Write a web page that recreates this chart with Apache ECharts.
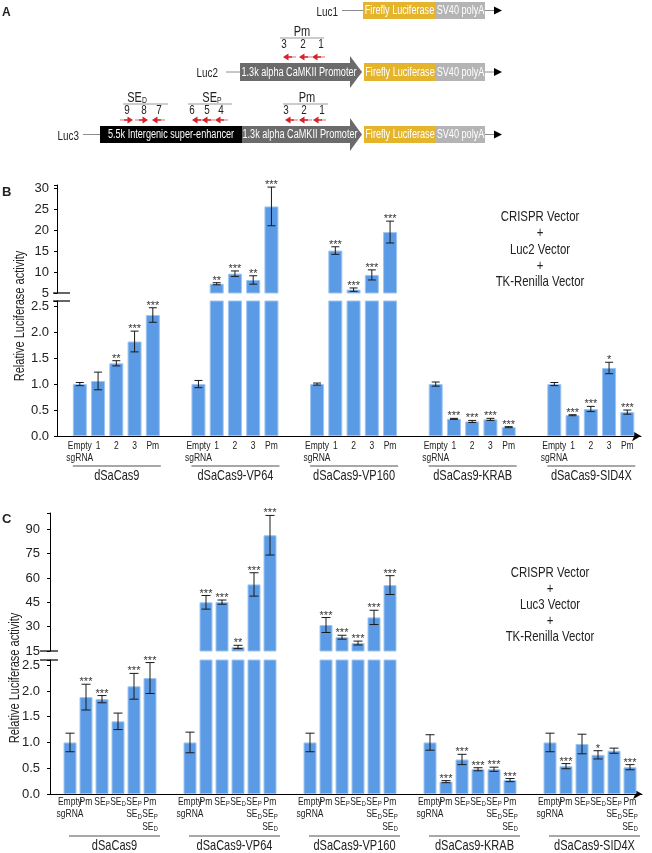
<!DOCTYPE html>
<html><head><meta charset="utf-8">
<script src="https://cdn.jsdelivr.net/npm/echarts@6/dist/echarts.min.js"></script>
<style>html,body{margin:0;padding:0;background:#fff}#c{width:652px;height:853px}</style>
</head><body><div id="c"></div>
<script>
// ---------------- DATA ----------------
const groupNames = ['dSaCas9','dSaCas9-VP64','dSaCas9-VP160','dSaCas9-KRAB','dSaCas9-SID4X'];

// Panel B (Luc2)
const bBarLabels = ['Empty\nsgRNA','1','2','3','Pm'];
const bMean = [[1.0,1.06,1.40,1.82,2.33],[1.0,7.2,9.6,8.1,25.6],[1.0,15.1,5.8,9.3,19.5],[1.0,0.33,0.28,0.32,0.17],[1.0,0.40,0.52,1.31,0.46]];
const bErr  = [[0.03,0.17,0.05,0.20,0.14],[0.07,0.25,0.65,1.0,4.6],[0.02,0.9,0.4,1.2,2.6],[0.04,0.01,0.02,0.02,0.01],[0.03,0.01,0.05,0.11,0.04]];
const bSig  = [['','','**','***','***'],['','**','***','**','***'],['','***','***','***','***'],['','***','***','***','***'],['','***','***','*','***']];
const bLowerTicks = [0,0.5,1.0,1.5,2.0,2.5];
const bUpperTicks = [5,10,15,20,25,30];

// Panel C (Luc3)
const cBarLabels = ['Empty\nsgRNA','Pm','SE{s|P}','SE{s|D}','SE{s|P}\nSE{s|D}','Pm\nSE{s|P}\nSE{s|D}'];
const cMean = [[1.0,1.88,1.84,1.41,2.09,2.25],[1.0,45.0,45.1,17.5,56.0,86.3],[1.0,31.0,23.5,19.9,35.7,55.6],[1.0,0.24,0.67,0.48,0.48,0.27],[1.0,0.54,0.97,0.76,0.84,0.52]];
const cErr  = [[0.18,0.25,0.07,0.16,0.25,0.30],[0.2,4.2,1.3,1.0,7.2,12.2],[0.18,4.6,1.2,1.2,4.4,5.8],[0.15,0.02,0.10,0.03,0.04,0.03],[0.18,0.05,0.19,0.08,0.05,0.05]];
const cSig  = [['','***','***','','***','***'],['','***','***','**','***','***'],['','***','***','***','***','***'],['','***','***','***','***','***'],['','***','','*','','***']];
const cLowerTicks = [0,0.5,1.0,1.5,2.0,2.5];
const cUpperTicks = [15,30,45,60,75,90];

const bLegend = ['CRISPR Vector','+','Luc2 Vector','+','TK-Renilla Vector'];
const cLegend = ['CRISPR Vector','+','Luc3 Vector','+','TK-Renilla Vector'];
const yName = 'Relative Luciferase activity';

// ---------------- STYLE ----------------
const REG = '"Liberation Sans",Arial,sans-serif';
const SX = 0.76; // horizontal condensing to mimic a narrow typeface
const BAR = '#5B9BE6', BAR_EDGE = '#9FC5F1', TXT = '#222';
const SUB = {s:{fontFamily:REG, fontSize:8, lineHeight:5, verticalAlign:'bottom', fill:TXT}};

const chart = echarts.init(document.getElementById('c'), null, {renderer:'canvas'});
const option = {animation:false, grid:[], xAxis:[], yAxis:[], series:[], graphic:[]};
const panels = [];

function buildSlots(nBars, nGroups, lead, gap, trail){
  let idx = lead; const pos = [];
  for (let g=0; g<nGroups; g++){
    const p=[]; for (let i=0;i<nBars;i++){ p.push(idx); idx += (i<nBars-1?2:1); }
    pos.push(p); if (g<nGroups-1) idx += gap;
  }
  return {n: idx+trail, pos};
}

function errRender(sigs, capW){
  return function(params, api){
    const x = api.value(0), m = api.value(1), e = api.value(2);
    const t = api.coord([x, m+e]), b = api.coord([x, m-e]);
    const cx = t[0], st = {stroke:'#1a1a1a', lineWidth:1};
    const ch = [
      {type:'line', shape:{x1:cx,y1:t[1],x2:cx,y2:b[1]}, style:st},
      {type:'line', shape:{x1:cx-capW/2,y1:t[1],x2:cx+capW/2,y2:t[1]}, style:st},
      {type:'line', shape:{x1:cx-capW/2,y1:b[1],x2:cx+capW/2,y2:b[1]}, style:st}
    ];
    const s = sigs[params.dataIndex];
    if (s) ch.push({type:'text', style:{text:s, x:cx, y:t[1]-2, align:'center', verticalAlign:'middle', font:'11px '+REG, fill:'#333'}});
    return {type:'group', children:ch};
  };
}

function addPanel(p){
  const nb = p.barLabels.length;
  const slots = buildSlots(nb, p.mean.length, p.lead, p.gap, p.trail);
  const cats = Array.from({length:slots.n}, (_,i)=>'c'+i);
  const gL = option.grid.length;
  option.grid.push({left:p.left, top:p.lowerTop, width:p.width, height:p.lowerH});
  option.grid.push({left:p.left, top:p.upperTop, width:p.width, height:p.upperH});
  option.xAxis.push({type:'category', gridIndex:gL, data:cats,
    axisLine:{show:true, lineStyle:{color:'#000', width:1}, symbol:['none','arrow'], symbolSize:[8,9]},
    axisTick:{show:false}, axisLabel:{show:false}});
  option.xAxis.push({type:'category', gridIndex:gL+1, data:cats, show:false});
  const li = p.lowerTicks[1]-p.lowerTicks[0], ui = p.upperTicks[1]-p.upperTicks[0];
  const yCommon = {axisLine:{show:true, lineStyle:{color:'#000', width:1}}, axisTick:{show:true, length:3, lineStyle:{color:'#000'}}, splitLine:{show:false}};
  option.yAxis.push(Object.assign({type:'value', gridIndex:gL, min:p.lowerTicks[0], max:p.lowerMax, interval:li,
    axisLabel:{color:TXT, fontFamily:REG, fontSize:13, margin:p.tickMargin,
      formatter:v=>p.lowerTicks.some(t=>Math.abs(t-v)<1e-6)?v.toFixed(1):''}}, yCommon));
  option.yAxis.push(Object.assign({type:'value', gridIndex:gL+1, min:p.upperTicks[0], max:p.upperMax, interval:ui,
    axisLabel:{color:TXT, fontFamily:REG, fontSize:13, margin:p.tickMargin,
      formatter:v=>p.upperTicks.some(t=>Math.abs(t-v)<1e-6)?String(v):''}}, yCommon));
  const low = new Array(slots.n).fill('-'), up = new Array(slots.n).fill('-');
  const eLow=[], eUp=[], sLow=[], sUp=[];
  p.mean.forEach((g,gi)=>g.forEach((m,bi)=>{
    const s = slots.pos[gi][bi];
    low[s]=m;
    if (m>p.lowerMax){ up[s]=m; eUp.push([s,m,p.err[gi][bi]]); sUp.push(p.sig[gi][bi]); }
    else { eLow.push([s,m,p.err[gi][bi]]); sLow.push(p.sig[gi][bi]); }
  }));
  const barStyle = {color:BAR, borderColor:BAR_EDGE, borderWidth:1};
  option.series.push({type:'bar', xAxisIndex:gL, yAxisIndex:gL, data:low, barWidth:p.barW, itemStyle:barStyle, clip:true, z:2});
  option.series.push({type:'bar', xAxisIndex:gL+1, yAxisIndex:gL+1, data:up, barWidth:p.barW, itemStyle:barStyle, clip:true, z:2});
  option.series.push({type:'custom', xAxisIndex:gL, yAxisIndex:gL, data:eLow, renderItem:errRender(sLow,p.capW), clip:false, z:5});
  option.series.push({type:'custom', xAxisIndex:gL+1, yAxisIndex:gL+1, data:eUp, renderItem:errRender(sUp,p.capW), clip:false, z:5});
  panels.push(Object.assign({gL, slots}, p));
}

addPanel({mean:bMean, err:bErr, sig:bSig, barLabels:bBarLabels, lowerTicks:bLowerTicks, upperTicks:bUpperTicks,
  left:57, width:584, lowerTop:301, lowerH:135, upperTop:185, upperH:108, lowerMax:2.6, upperMax:30.7,
  lead:2, gap:4, trail:1, barW:14, capW:8, labelLH:12, labelTop:439.5, tickMargin:8,
  brk:[-4,13], ulOff:[-7,8], lineY:466, nameY:475, legend:bLegend, legX:540, legY:249.5, legLH:16.3, yNameX:20, yNameY:316});
addPanel({mean:cMean, err:cErr, sig:cSig, barLabels:cBarLabels, lowerTicks:cLowerTicks, upperTicks:cUpperTicks,
  left:50, width:592, lowerTop:660, lowerH:134, upperTop:513, upperH:138, lowerMax:2.6, upperMax:100,
  lead:2, gap:4, trail:1, barW:13, capW:9, labelLH:12.5, labelTop:795.5, tickMargin:10,
  brk:[-10,8], ulOff:[-1,10], lineY:836, nameY:845, legend:cLegend, legX:550, legY:605, legLH:16, yNameX:15, yNameY:678});

chart.setOption(option);

// ---------------- DECORATIONS ----------------
const G = [];
function ntxt(text, x, y, size, o){ // condensed text
  o = o || {};
  return {type:'text', x, y, rotation:o.rotation||0, scaleX:SX,
    style:Object.assign({text, align:o.align||'center', verticalAlign:o.va||'middle', font:(o.bold?'bold ':'')+size+'px '+REG, fill:o.fill||TXT}, o.style||{})};
}
const line = (x1,y1,x2,y2,stroke,w)=>({type:'line', shape:{x1,y1,x2,y2}, style:{stroke, lineWidth:w||1}});

panels.forEach(p=>{
  const gL = p.gL;
  const yTopLow = chart.convertToPixel({gridIndex:gL}, [0, p.lowerMax])[1];
  const yBotUp = chart.convertToPixel({gridIndex:gL+1}, [0, p.upperTicks[0]])[1];
  const ax = p.left;
  G.push(line(ax+p.brk[0], yBotUp, ax+p.brk[1], yBotUp, '#000', 1.2));
  G.push(line(ax+p.brk[0], yTopLow, ax+p.brk[1], yTopLow, '#000', 1.2));
  p.slots.pos.forEach((g,gi)=>{
    g.forEach((s,bi)=>{
      const px = chart.convertToPixel({gridIndex:gL}, [s,0])[0];
      G.push(ntxt(p.barLabels[bi], px, p.labelTop, 11.2, {va:'top', style:{lineHeight:p.labelLH, rich:SUB}}));
    });
    const x0 = chart.convertToPixel({gridIndex:gL}, [g[0],0])[0];
    const x1 = chart.convertToPixel({gridIndex:gL}, [g[g.length-1],0])[0];
    const a = x0+p.ulOff[0], b = x1+p.ulOff[1];
    G.push(line(a, p.lineY, b, p.lineY, '#8a8a8a', 1.5));
    G.push(ntxt(groupNames[gi], (a+b)/2, p.nameY+1, 14.5));
  });
  G.push(ntxt(p.legend.join('\n'), p.legX, p.legY, 15, {style:{lineHeight:p.legLH}}));
  G.push(ntxt(yName, p.yNameX, p.yNameY, 14.5, {rotation:Math.PI/2}));
});

// panel letters
G.push({type:'text', x:2, y:13, style:{text:'A', font:'bold 12px '+REG, fill:TXT, verticalAlign:'middle'}});
G.push({type:'text', x:2, y:192, style:{text:'B', font:'bold 13px '+REG, fill:TXT, verticalAlign:'middle'}});
G.push({type:'text', x:2, y:519, style:{text:'C', font:'bold 13px '+REG, fill:TXT, verticalAlign:'middle'}});

// ---------------- PANEL A DIAGRAM ----------------
const GOLD = '#E4B42C', SV = '#B4B4B4', PROM = '#6B6B6B', RED = '#D3222A', PINK = '#F2B5B5', LG = '#8c8c8c';
function box(x1,x2,y1,y2,fill,text){
  G.push({type:'rect', shape:{x:x1,y:y1,width:x2-x1,height:y2-y1}, style:{fill}});
  G.push(ntxt(text, (x1+x2)/2, (y1+y2)/2+0.5, 12, {fill:'#fff'}));
}
function promoter(x1,x2,tip,y1,y2,h1,h2){
  const yc=(y1+y2)/2;
  G.push({type:'polygon', shape:{points:[[x1,y1],[x2,y1],[x2,h1],[tip,yc],[x2,h2],[x2,y2],[x1,y2]]}, style:{fill:PROM}});
  G.push(ntxt('1.3k alpha CaMKII Promoter', (x1+x2)/2+4, yc+0.5, 12, {fill:'#fff'}));
}
function tail(y){
  G.push(line(485, y, 495, y, LG, 1));
  G.push({type:'polygon', shape:{points:[[494,y-4],[502,y],[494,y+4]]}, style:{fill:'#000'}});
}
function redArrow(tip, y, dir){ // dir -1 = pointing left, 1 = pointing right
  const d = -dir;
  G.push(line(tip+d*9, y, tip+d*13, y, PINK, 2));
  G.push(line(tip+d*4, y, tip+d*9, y, RED, 1.6));
  G.push({type:'polygon', shape:{points:[[tip,y],[tip+d*5.5,y-3.5],[tip+d*5.5,y+3.5]]}, style:{fill:RED}});
}
function bracket(label, cx, x1, x2, yl, yLine){
  G.push(ntxt(label, cx, yl, 14.5, {style:{rich:{s:{fontSize:9, fontFamily:REG, verticalAlign:'bottom', lineHeight:6, fill:TXT}}}}));
  G.push(line(x1, yLine, x2, yLine, '#999', 1));
}

// Luc1
G.push(ntxt('Luc1', 338, 12, 13, {align:'right'}));
G.push(line(342, 10.5, 363, 10.5, LG, 1));
box(363,436,2,19,GOLD,'Firefly Luciferase');
box(436,485,2,19,SV,'SV40 polyA');
tail(10.5);

// Luc2
G.push(ntxt('Luc2', 218, 73, 13, {align:'right'}));
G.push(line(226, 72, 240, 72, LG, 1));
promoter(240,350,362,63,81,56,88);
box(364,436,63,81,GOLD,'Firefly Luciferase');
box(436,485,63,81,SV,'SV40 polyA');
tail(72);
bracket('Pm', 302, 280, 324, 32, 38);
[['3',284],['2',303],['1',321]].forEach(n=>G.push(ntxt(n[0], n[1], 44, 13)));
[283,299,312].forEach(t=>redArrow(t,57,-1));

// Luc3
G.push(ntxt('Luc3', 79, 136, 13, {align:'right'}));
G.push(line(83, 134.5, 100, 134.5, LG, 1));
box(100,242,126,143,'#000','5.5k Intergenic super-enhancer');
promoter(242,350,362,126,143,118,151);
box(364,436,126,143,GOLD,'Firefly Luciferase');
box(436,485,126,143,SV,'SV40 polyA');
tail(134.5);
bracket('SE{s|D}', 137, 123, 168, 98, 104);
bracket('SE{s|P}', 212, 188, 232, 98, 104);
bracket('Pm', 307, 283, 328, 98, 104);
[['9',127],['8',144],['7',159],['6',192],['5',207],['4',221],['3',286],['2',304],['1',322]].forEach(n=>G.push(ntxt(n[0], n[1], 110, 13)));
redArrow(133,120,1); redArrow(148,120,1); redArrow(152,120,-1);
[192,202,215,285,299,313].forEach(t=>redArrow(t,120,-1));

chart.setOption({graphic:{elements:G}});
</script></body></html>
